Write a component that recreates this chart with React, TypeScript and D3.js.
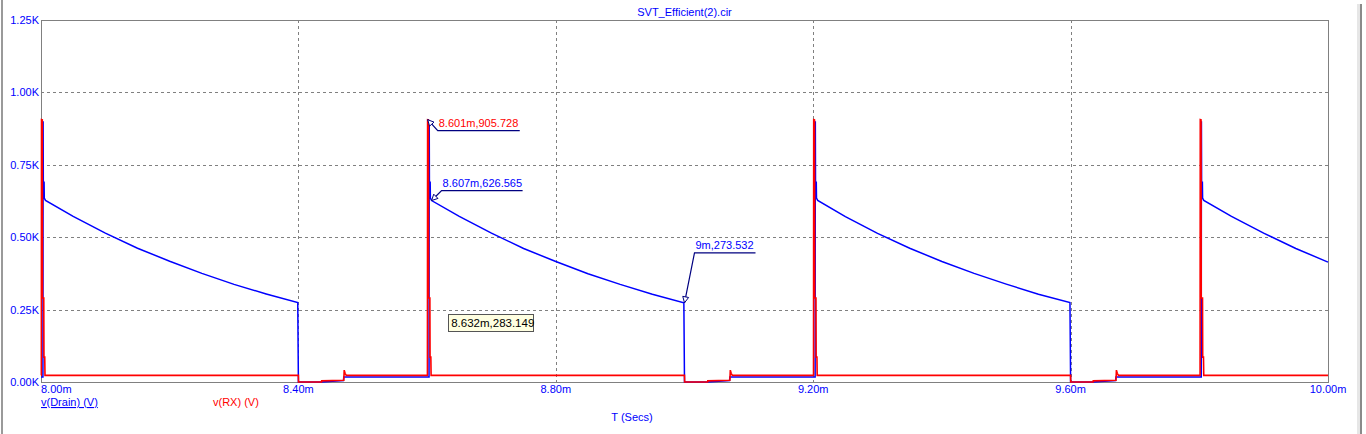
import React from 'react';
import * as d3 from 'd3';

// transient sim output, time in ms, voltage in V
const title = 'SVT_Efficient(2).cir';
const xTicks = [8.0, 8.4, 8.8, 9.2, 9.6, 10.0];
const xTickLabels = ['8.00m', '8.40m', '8.80m', '9.20m', '9.60m', '10.00m'];
const yTicks = [0, 250, 500, 750, 1000, 1250];
const yTickLabels = ['0.00K', '0.25K', '0.50K', '0.75K', '1.00K', '1.25K'];

const drainPoints: [number, number][] = [
  [8.0, 17], [8.003, 17], [8.0033, 900], [8.0036, 690], [8.0048, 690], [8.0051, 635], [8.007, 627],
  [8.05, 572], [8.1, 514], [8.15, 462], [8.2, 417], [8.25, 375], [8.3, 337], [8.35, 304], [8.399, 274],
  [8.4, 0], [8.436, 0], [8.47, 5], [8.4705, 17],
  [8.603, 17], [8.6033, 900], [8.6036, 690], [8.6048, 690], [8.6051, 635], [8.607, 626.565],
  [8.65, 572], [8.7, 514], [8.75, 461], [8.8, 416], [8.85, 374], [8.9, 337], [8.95, 303], [8.999, 273.532],
  [9.0, 0], [9.036, 0], [9.07, 5], [9.0705, 17],
  [9.203, 17], [9.2033, 900], [9.2036, 690], [9.2048, 690], [9.2051, 635], [9.207, 627],
  [9.25, 571], [9.3, 513], [9.35, 462], [9.4, 416], [9.45, 375], [9.5, 338], [9.55, 303], [9.599, 274],
  [9.6, 0], [9.635, 0], [9.67, 5], [9.6705, 17],
  [9.803, 17], [9.8033, 900], [9.8036, 690], [9.8048, 690], [9.8051, 635], [9.807, 627],
  [9.85, 572], [9.9, 514], [9.95, 461], [10.0, 414],
];

const rxPoints: [number, number][] = [
  [8.0, 23], [8.0005, 23], [8.0008, 906], [8.002, 905], [8.0023, 290], [8.0043, 290], [8.0046, 86], [8.0058, 86], [8.0062, 23],
  [8.4, 23], [8.4002, 0], [8.436, 0], [8.4362, 4], [8.4705, 6], [8.4712, 41], [8.4725, 30], [8.4745, 23],
  [8.6005, 23], [8.6008, 905.728], [8.602, 905], [8.6023, 290], [8.6043, 290], [8.6046, 86], [8.6058, 86], [8.6062, 23],
  [9.0, 23], [9.0002, 0], [9.036, 0], [9.0362, 4], [9.0705, 6], [9.0712, 41], [9.0725, 30], [9.0745, 23],
  [9.2005, 23], [9.2008, 906], [9.202, 905], [9.2023, 290], [9.2043, 290], [9.2046, 86], [9.2058, 86], [9.2062, 23],
  [9.6, 23], [9.6002, 0], [9.635, 0], [9.6352, 4], [9.6705, 6], [9.6712, 41], [9.6725, 30], [9.6745, 23],
  [9.8012, 23], [9.8015, 906], [9.8027, 905], [9.803, 290], [9.805, 290], [9.8053, 86], [9.8065, 86], [9.8069, 23],
  [10.0, 23],
];

const markers = [
  { t: 8.601, v: 905.728, label: '8.601m,905.728', color: '#ff0000', dx: 10, dy: 11, len: 82 },
  { t: 8.607, v: 626.565, label: '8.607m,626.565', color: '#0000ff', dx: 10, dy: -10, len: 81 },
  { t: 9.0, v: 273.532, label: '9m,273.532', color: '#0000ff', dx: 10, dy: -50, len: 61 },
];
const cursorReadout = { t: 8.632, v: 283.149, label: '8.632m,283.149' };

const W = 1366;
const H = 434;
const font = '"Liberation Sans", Arial, sans-serif';
const blue = '#0000ff';
const red = '#ff0000';
const gray = '#808080';

export default function App() {
  const x = d3.scaleLinear().domain([8, 10]).range([41, 1328]);
  const y = d3.scaleLinear().domain([0, 1250]).range([382, 20]);
  const line = d3.line<[number, number]>().x(d => x(d[0])).y(d => y(d[1]));

  const left = x(8), right = x(10), top = y(1250), bottom = y(0);

  const arrow = (px: number, py: number, ex: number, ey: number) => {
    const len = Math.hypot(ex - px, ey - py);
    const ux = (ex - px) / len, uy = (ey - py) / len;
    const bx = px + ux * 6, by = py + uy * 6;
    return `${px},${py} ${bx - uy * 3},${by + ux * 3} ${bx + uy * 3},${by - ux * 3}`;
  };

  return (
    <div style={{ position: 'fixed', left: 0, top: 0 }}>
      <svg width={W} height={H} style={{ display: 'block', background: '#fff' }}>
        <rect x={1} y={0} width={2} height={H} fill="#9a9a9a" />
        <rect x={1357} y={4} width={3} height={H - 4} fill="#e6e6e6" />
        <rect x={1360} y={4} width={2} height={H - 4} fill="#8a8a8a" />

        <g shapeRendering="crispEdges">
          {yTicks.slice(1, -1).map(v => (
            <line key={'gy' + v} x1={left} x2={right} y1={Math.round(y(v)) + 0.5} y2={Math.round(y(v)) + 0.5}
              stroke={gray} strokeDasharray="3,3" />
          ))}
          {xTicks.slice(1, -1).map(t => (
            <line key={'gx' + t} x1={Math.round(x(t)) + 0.5} x2={Math.round(x(t)) + 0.5} y1={top} y2={bottom}
              stroke={gray} strokeDasharray="3,3" />
          ))}
          <rect x={Math.round(left) + 0.5} y={Math.round(top) + 0.5} width={Math.round(right - left)} height={Math.round(bottom - top)}
            fill="none" stroke={gray} strokeWidth={1} />
        </g>

        <path d={line(drainPoints) || ''} fill="none" stroke={blue} strokeWidth={1.5} />
        <path d={line(rxPoints) || ''} fill="none" stroke={red} strokeWidth={1.6} />

        {markers.map(m => {
          const px = x(m.t), py = y(m.v);
          const ex = px + m.dx, ey = py + m.dy;
          return (
            <g key={m.label}>
              <polyline points={`${px},${py} ${ex},${ey} ${ex + m.len},${ey}`} fill="none" stroke="#000080" strokeWidth={1.2} />
              <polygon points={arrow(px, py, ex, ey)} fill="#fff" stroke="#000080" strokeWidth={1} />
              <text x={ex + 1} y={ey - 4} fontFamily={font} fontSize={11} fill={m.color}>{m.label}</text>
            </g>
          );
        })}

        <g>
          <rect x={Math.round(x(cursorReadout.t)) + 0.5} y={Math.round(y(cursorReadout.v)) + 14.5} width={85} height={17}
            fill="#ffffe1" stroke="#555" />
          <text x={x(cursorReadout.t) + 3.5} y={y(cursorReadout.v) + 27} fontFamily={font} fontSize={11.5} fill="#000">
            {cursorReadout.label}
          </text>
        </g>

        {yTicks.map((v, i) => (
          <text key={'ly' + v} x={39} y={y(v) + 4} textAnchor="end" fontFamily={font} fontSize={11} fill={blue}>
            {yTickLabels[i]}
          </text>
        ))}
        {xTicks.map((t, i) => (
          <text key={'lx' + t} x={x(t)} y={393} textAnchor={i === 0 ? 'start' : 'middle'} fontFamily={font} fontSize={11} fill={blue}>
            {xTickLabels[i]}
          </text>
        ))}

        <text x={(left + right) / 2} y={16} textAnchor="middle" fontFamily={font} fontSize={11} fill={blue}>{title}</text>
        <text x={41} y={406} fontFamily={font} fontSize={11} fill={blue} textDecoration="underline">v(Drain) (V)</text>
        <text x={213} y={406} fontFamily={font} fontSize={11} fill={red}>v(RX) (V)</text>
        <text x={632} y={421} textAnchor="middle" fontFamily={font} fontSize={11} fill={blue}>T (Secs)</text>
      </svg>
    </div>
  );
}
